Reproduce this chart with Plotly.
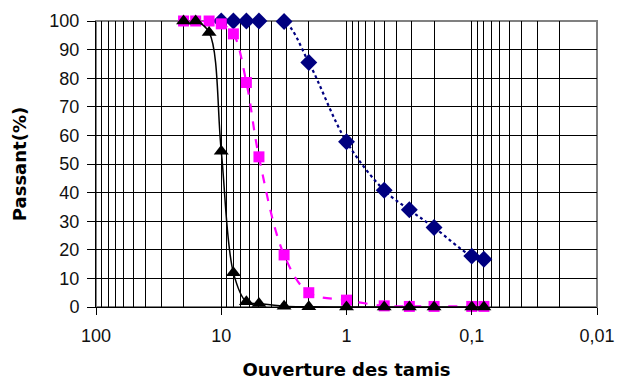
import plotly.graph_objects as go

# Sieve openings (mm)
sizes = [20, 16, 12.5, 10, 8, 6.3, 5, 3.15, 2, 1, 0.5, 0.315, 0.2, 0.1, 0.08]

# Passing percentages
diamond_sizes = [10, 8, 6.3, 5, 3.15, 2, 1, 0.5, 0.315, 0.2, 0.1, 0.08]
diamond_vals = [100, 100, 100, 100, 99.8, 85.5, 57.8, 40.8, 34, 27.8, 17.8, 16.7]
square_vals = [100, 100, 100, 99, 95.5, 78.5, 52.5, 18.2, 5, 2.4, 0.4, 0.2, 0.2, 0.2, 0.2]
triangle_vals = [100, 100, 96, 54.5, 12, 1.8, 1.2, 0.3, 0.1, 0, 0, 0, 0, 0, 0]

x_major = [100, 10, 1, 0.1, 0.01]
x_labels = ["100", "10", "1", "0,1", "0,01"]
x_minor = [m * d for d in [10, 1, 0.1, 0.01] for m in range(2, 10)]
y_ticks = list(range(0, 101, 10))

fig = go.Figure()
fig.add_trace(go.Scatter(
    x=diamond_sizes, y=diamond_vals, mode="lines+markers",
    line=dict(color="#000080", width=2.2, dash="dot", shape="spline"),
    marker=dict(symbol="diamond", size=13, color="#000080"),
    cliponaxis=False, showlegend=False))
fig.add_trace(go.Scatter(
    x=sizes, y=square_vals, mode="lines+markers",
    line=dict(color="#FF00FF", width=2.2, dash="dash", shape="spline"),
    marker=dict(symbol="square", size=11, color="#FF00FF"),
    cliponaxis=False, showlegend=False))
fig.add_trace(go.Scatter(
    x=sizes, y=triangle_vals, mode="lines+markers",
    line=dict(color="black", width=1.5, shape="spline"),
    marker=dict(symbol="triangle-up", size=13, color="black"),
    cliponaxis=False, showlegend=False))

title_font = dict(family="DejaVu Sans, sans-serif", size=18, color="black")

fig.update_layout(
    width=618, height=381,
    margin=dict(l=96, r=21, t=21, b=74),
    paper_bgcolor="white", plot_bgcolor="white",
    font=dict(family="Liberation Sans, Arial, sans-serif", size=18, color="#111111"),
    shapes=[dict(type="rect", xref="paper", yref="paper", x0=0, x1=1, y0=0, y1=1,
                 line=dict(color="#808080", width=2), layer="below")],
)
fig.update_xaxes(
    type="log", range=[2, -2], automargin=False,
    tickvals=x_major, ticktext=x_labels,
    ticks="outside", ticklen=7, tickcolor="black", tickwidth=1,
    ticklabelstandoff=5,
    showgrid=True, gridcolor="black", gridwidth=1,
    minor=dict(tickvals=x_minor, showgrid=True, gridcolor="black", gridwidth=1, ticks=""),
    showline=True, linecolor="black", linewidth=1,
    zeroline=False,
    title=dict(text="<b>Ouverture des tamis</b>", font=title_font, standoff=18),
)
fig.update_yaxes(
    range=[0, 100], tickvals=y_ticks, automargin=False,
    ticks="outside", ticklen=8, tickcolor="black", tickwidth=1,
    ticklabelstandoff=4,
    showgrid=True, gridcolor="black", gridwidth=1,
    showline=True, linecolor="black", linewidth=1,
    zeroline=False,
    title=dict(text="<b>Passant(%)</b>", font=title_font, standoff=18),
)

fig.write_html("out.html")
